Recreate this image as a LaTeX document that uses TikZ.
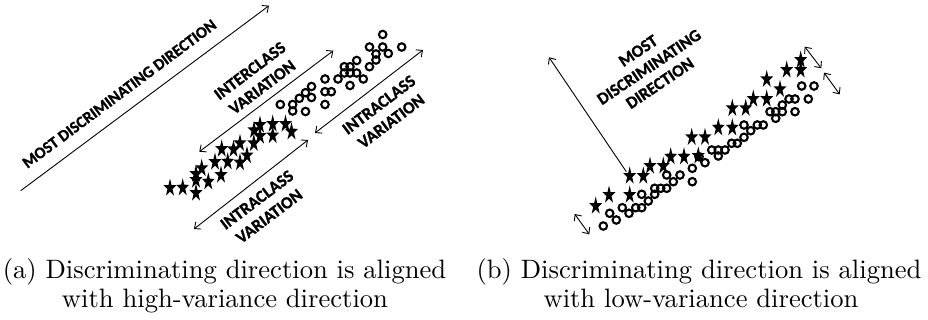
\documentclass[tikz,border=0pt]{standalone}
\usepackage{fontspec}
\newfontfamily\lab{Carlito}[BoldFeatures={FakeBold=1.2}]
\usetikzlibrary{arrows.meta,shapes.geometric}
\begin{document}
\begin{tikzpicture}[x=1pt,y=-1pt,
  conn/.style={line width=0.9pt},
  oneway/.style={conn,-{Straight Barb[length=5pt,width=9pt]}},
  twoway/.style={conn,{Straight Barb[length=5pt,width=9pt]}-{Straight Barb[length=5pt,width=9pt]}},
  lbl/.style={font=\lab\bfseries\fontsize{17}{20.5}\selectfont, align=center, inner sep=0},
  lblmain/.style={font=\lab\bfseries\fontsize{16.2}{19}\selectfont, inner sep=0},
  lblb/.style={font=\lab\bfseries\fontsize{17}{19.5}\selectfont, align=center, inner sep=0},
  cls/.style={circle, draw, line width=2.1pt, minimum size=7.5pt, inner sep=0},
  stl/.style={star, star points=5, star point ratio=2.6, fill=black, minimum size=19pt, inner sep=0, xscale=0.72},
  captxt/.style={scale=2.66, inner sep=0, font=\normalsize}
]
\useasboundingbox (0,0) rectangle (928,320);

% ---------- panel (a) ----------
\coordinate (am1) at (20.7,190.7);
\coordinate (am2) at (269,5.7);
\draw[oneway] (am1) -- (am2);
\node[lblmain, anchor=base, rotate=36.7] (amt) at (122.5,98) {MOST DISCRIMINATING DIRECTION};

\coordinate (ai1) at (199.3,151.7);
\coordinate (ai2) at (333.3,50.7);
\draw[twoway] (ai1) -- (ai2);
\node[lbl, rotate=37] (ait) at (256,79) {INTERCLASS\\VARIATION};

\coordinate (al1) at (194,229);
\coordinate (al2) at (308,140);
\draw[twoway] (al1) -- (al2);
\node[lbl, rotate=37] (alt) at (263,208) {INTRACLASS\\VARIATION};

\coordinate (ar1) at (315,133);
\coordinate (ar2) at (423,50);
\draw[twoway] (ar1) -- (ar2);
\node[lbl, rotate=37] (art) at (385,113) {INTRACLASS\\VARIATION};

\foreach \p [count=\i] in {(170,188),(182.7,187.7),(196,180),(196,174),(196,193),(201.7,168.3),
  (208.3,181.7),(215,162),(221,175),(221.7,149),(227.7,161.7),(233.5,149.3),(240,143.3),
  (240,162.5),(247,155.5),(253.8,143.3),(254,130.3),(260,125),(260,136),(272.7,124),
  (272.7,135.5),(285.5,124),(291.5,131.7)}
  \node[stl] (sa\i) at \p {};

\foreach \p [count=\i] in {(280.3,104.5),(292.7,104.5),(292.7,111),(299.3,98.3),(305.5,92.7),
  (305.5,111.5),(311.5,86.5),(311.5,97.5),(325,79),(325,91.7),(331.3,91.7),(325,104.5),
  (338,79),(344.3,66.7),(350,66.7),(344.3,73),(350,73),(356.7,60.5),(356.7,73),(350,85.5),
  (363.3,79),(369.5,47),(369.5,66.7),(376,54),(376,60),(382.7,34.5),(382.7,47),
  (388.3,53.5),(401.7,47)}
  \node[cls] (ca\i) at \p {};

% ---------- panel (b) ----------
\coordinate (bm1) at (626.3,171.7);
\coordinate (bm2) at (549,57.3);
\draw[oneway] (bm1) -- (bm2);
\node[lblb, rotate=34] (bmt) at (649,67) {MOST\\DISCRIMINATING\\DIRECTION};

\coordinate (bs1) at (574.7,214);
\coordinate (bs2) at (589.3,234.3);
\draw[twoway] (bs1) -- (bs2);
\coordinate (bt1) at (804.7,46.7);
\coordinate (bt2) at (821.3,68.3);
\draw[twoway] (bt1) -- (bt2);
\coordinate (bu1) at (824,72.7);
\coordinate (bu2) at (839.7,94.3);
\draw[twoway] (bu1) -- (bu2);

\foreach \p [count=\i] in {(595.7,206),(609,195),(629.7,176),(629.7,195),(643.3,176),(650,166),
  (663.3,166),(670.7,156.7),(684,156.7),(691.7,137.3),(698.3,156),(705,137.3),(718.3,127.7),
  (732.3,108.3),(732.3,127.7),(745.7,108.3),(753.3,99),(766.7,79.3),(766.7,99),(780,89.3),
  (786.7,70),(800.7,60),(800.7,70)}
  \node[stl] (sb\i) at \p {};

\foreach \p [count=\i] in {(603.3,226),(609.7,213.3),(616.3,220),(622.3,207.7),(629,213.3),
  (635.7,207.7),(641.7,194.3),(641.7,207.7),(648.3,201),(654.7,194.3),(654.7,188.3),
  (660.7,188.3),(666.7,188.3),(666.7,175),(673.3,181.7),(680,175),(692.3,168.3),(692.3,181.7),
  (699,156.7),(705,162.7),(711.7,150),(718.3,150),(718.3,156),(725,150),(731.7,143.3),
  (737.3,143.3),(744,137.3),(744,125),(750.7,130.7),(757.3,125),(763.3,125),(770,111.7),
  (775.7,111.7),(775.7,118.3),(782.3,111.7),(782.3,105),(789,99),(795,99),(795,111.7),
  (801.7,86),(808.3,99),(814,86)}
  \node[cls] (cb\i) at \p {};

% ---------- captions ----------
\node[captxt, anchor=base] (capa1) at (224.5,278) {(a) Discriminating direction is aligned};
\node[captxt, anchor=base] (capa2) at (225,307.5) {with high-variance direction};
\node[captxt, anchor=base] (capb1) at (699,278) {(b) Discriminating direction is aligned};
\node[captxt, anchor=base] (capb2) at (701,307.5) {with low-variance direction};
\end{tikzpicture}
\end{document}
